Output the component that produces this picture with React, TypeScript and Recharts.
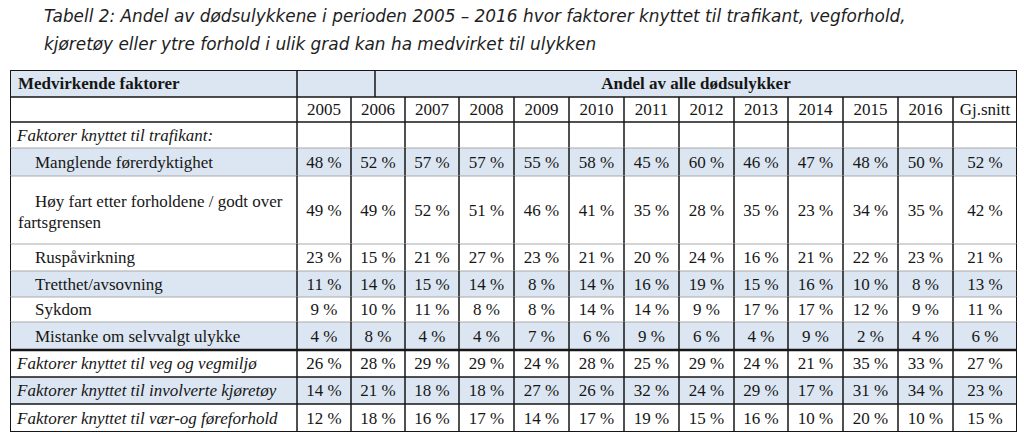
import React from 'react';
import { ScatterChart, Scatter, XAxis, YAxis } from 'recharts';

// --- table content ---
const years = ['2005', '2006', '2007', '2008', '2009', '2010', '2011', '2012', '2013', '2014', '2015', '2016', 'Gj.snitt'];
const headerLabel = 'Medvirkende faktorer';
const spanLabel = 'Andel av alle dødsulykker';
const trafikantHeading = 'Faktorer knyttet til trafikant:';

const subLabels = [
    'Manglende førerdyktighet',
    'Høy fart etter forholdene / godt over\nfartsgrensen',
    'Ruspåvirkning',
    'Tretthet/avsovning',
    'Sykdom',
    'Mistanke om selvvalgt ulykke',
];
const manglende = [48, 52, 57, 57, 55, 58, 45, 60, 46, 47, 48, 50, 52];
const hoyFart = [49, 49, 52, 51, 46, 41, 35, 28, 35, 23, 34, 35, 42];
const ruspavirkning = [23, 15, 21, 27, 23, 21, 20, 24, 16, 21, 22, 23, 21];
const tretthet = [11, 14, 15, 14, 8, 14, 16, 19, 15, 16, 10, 8, 13];
const sykdom = [9, 10, 11, 8, 8, 14, 14, 9, 17, 17, 12, 9, 11];
const mistanke = [4, 8, 4, 4, 7, 6, 9, 6, 4, 9, 2, 4, 6];

const groupLabels = [
    'Faktorer knyttet til veg og vegmiljø',
    'Faktorer knyttet til involverte kjøretøy',
    'Faktorer knyttet til vær-og føreforhold',
];
const vegmiljo = [26, 28, 29, 29, 24, 28, 25, 29, 24, 21, 35, 33, 27];
const kjoretoy = [14, 21, 18, 18, 27, 26, 32, 24, 29, 17, 31, 34, 23];
const vaerfore = [12, 18, 16, 17, 14, 17, 19, 15, 16, 10, 20, 10, 15];

const title1 = 'Tabell 2: Andel av dødsulykkene i perioden 2005 – 2016 hvor faktorer knyttet til trafikant, vegforhold,';
const title2 = 'kjøretøy eller ytre forhold i ulik grad kan ha medvirket til ulykken';

// --- layout (table units, 1 unit = 1px) ---
const colEdges = [0, 287, 341, 395, 449, 504, 559, 614, 669, 724, 778, 833, 888, 943, 1007];
const rowEdges = [0, 27, 52, 78, 106, 174, 201, 227, 252, 280, 307, 334, 362];
const headerEdges = [0, 287, 365, 1007];
const TABLE_W = 1007;
const TABLE_H = 362;

const BLUE = '#dce6f2';
const INK = '#161616';
const THIN = '#a9a9a9';
const FONT = '"Liberation Serif", "Times New Roman", serif';
const blueRows = [0, 3, 6, 8, 10];
const thinRows = [3, 4, 5, 6, 7, 8];

interface CellDatum {
    x: number;
    y: number;
    w: number;
    h: number;
    lines: string[];
    offsets: number[];
    indents: number[];
    align: 'start' | 'middle';
    italic: boolean;
    bold: boolean;
    fill: string;
    topColor: string;
    topWidth: number;
    lastCol: boolean;
    lastRow: boolean;
}

const makeCell = (
    left: number, right: number, row: number, text: string,
    opts: Partial<CellDatum> = {}
): CellDatum => {
    const top = rowEdges[row];
    const bottom = rowEdges[row + 1];
    const lines = text ? text.split('\n') : [];
    return {
        x: (left + right) / 2,
        y: (top + bottom) / 2,
        w: right - left,
        h: bottom - top,
        lines,
        offsets: lines.length > 1 ? [-9, 12] : [0],
        indents: lines.length > 1 ? [25, 8] : [7],
        align: 'middle',
        italic: false,
        bold: false,
        fill: blueRows.includes(row) ? BLUE : '#ffffff',
        topColor: thinRows.includes(row) ? THIN : INK,
        topWidth: row === 0 ? 2 : row === 9 ? 2.5 : thinRows.includes(row) ? 1 : 1.5,
        lastCol: right === TABLE_W,
        lastRow: row === rowEdges.length - 2,
        ...opts,
    };
};

const valueRow = (row: number, label: string, values: number[], italic: boolean): CellDatum[] => {
    const labelCell = makeCell(colEdges[0], colEdges[1], row, label, {
        align: 'start',
        italic,
        indents: italic ? [7] : label.includes('\n') ? [25, 8] : [25],
    });
    const cells = values.map((v, i) => makeCell(colEdges[i + 1], colEdges[i + 2], row, `${v} %`));
    return [labelCell, ...cells];
};

const buildCells = (): CellDatum[] => {
    const cells: CellDatum[] = [];
    // header row 1
    cells.push(makeCell(headerEdges[0], headerEdges[1], 0, headerLabel, { align: 'start', bold: true, indents: [8] }));
    cells.push(makeCell(headerEdges[1], headerEdges[2], 0, ''));
    cells.push(makeCell(headerEdges[2], headerEdges[3], 0, spanLabel, { bold: true }));
    // header row 2
    cells.push(makeCell(colEdges[0], colEdges[1], 1, ''));
    years.forEach((y, i) => cells.push(makeCell(colEdges[i + 1], colEdges[i + 2], 1, y)));
    // trafikant heading
    cells.push(makeCell(colEdges[0], colEdges[1], 2, trafikantHeading, { align: 'start', italic: true, indents: [7] }));
    years.forEach((_, i) => cells.push(makeCell(colEdges[i + 1], colEdges[i + 2], 2, '')));
    // sub rows
    const subValues = [manglende, hoyFart, ruspavirkning, tretthet, sykdom, mistanke];
    subLabels.forEach((lab, i) => cells.push(...valueRow(3 + i, lab, subValues[i], false)));
    // group rows
    const groupValues = [vegmiljo, kjoretoy, vaerfore];
    groupLabels.forEach((lab, i) => cells.push(...valueRow(9 + i, lab, groupValues[i], true)));
    return cells;
};

const cellData = buildCells();

const FillShape = (props: any) => {
    const { cx, cy, payload } = props;
    const d = payload as CellDatum;
    const left = cx - d.w / 2;
    const top = cy - d.h / 2;
    return (
        <g>
            <rect x={left} y={top} width={d.w} height={d.h} fill={d.fill} />
            {d.lines.map((ln, i) => (
                <text
                    key={i}
                    x={d.align === 'start' ? left + d.indents[i] : cx}
                    y={cy + d.offsets[i]}
                    textAnchor={d.align}
                    dominantBaseline="central"
                    fontFamily={FONT}
                    fontSize={17}
                    fontStyle={d.italic ? 'italic' : 'normal'}
                    fontWeight={d.bold ? 'bold' : 'normal'}
                    fill={INK}
                >
                    {ln}
                </text>
            ))}
        </g>
    );
};

const BorderShape = (props: any) => {
    const { cx, cy, payload } = props;
    const d = payload as CellDatum;
    const left = cx - d.w / 2;
    const right = cx + d.w / 2;
    const top = cy - d.h / 2;
    const bottom = cy + d.h / 2;
    return (
        <g>
            <line x1={left} x2={right} y1={top} y2={top} stroke={d.topColor} strokeWidth={d.topWidth} />
            <line x1={left} x2={left} y1={top} y2={bottom} stroke={INK} strokeWidth={left === cx - d.x ? 2 : 1.5} />
            {d.lastCol && <line x1={right} x2={right} y1={top} y2={bottom} stroke={INK} strokeWidth={2} />}
            {d.lastRow && <line x1={left} x2={right} y1={bottom} y2={bottom} stroke={INK} strokeWidth={2} />}
        </g>
    );
};

const App: React.FC = () => {
    return (
        <div style={{ position: 'relative', width: 1024, height: 439, background: '#fff' }}>
            <style>{'body{margin:0}'}</style>
            <div
                style={{
                    position: 'absolute',
                    left: 44,
                    top: 2,
                    fontFamily: '"DejaVu Sans", sans-serif',
                    fontStyle: 'italic',
                    fontSize: 16.9,
                    lineHeight: '28px',
                    color: '#1e1e1e',
                    whiteSpace: 'nowrap',
                }}
            >
                <div>{title1}</div>
                <div>{title2}</div>
            </div>
            <ScatterChart
                width={1024}
                height={439}
                margin={{ top: 70, right: 1024 - 10 - TABLE_W, bottom: 439 - 70 - TABLE_H, left: 10 }}
            >
                <XAxis type="number" dataKey="x" domain={[0, TABLE_W]} allowDataOverflow hide />
                <YAxis type="number" dataKey="y" domain={[0, TABLE_H]} allowDataOverflow reversed hide />
                <Scatter data={cellData} shape={FillShape} isAnimationActive={false} legendType="none" />
                <Scatter data={cellData} shape={BorderShape} isAnimationActive={false} legendType="none" />
            </ScatterChart>
        </div>
    );
};

export default App;
